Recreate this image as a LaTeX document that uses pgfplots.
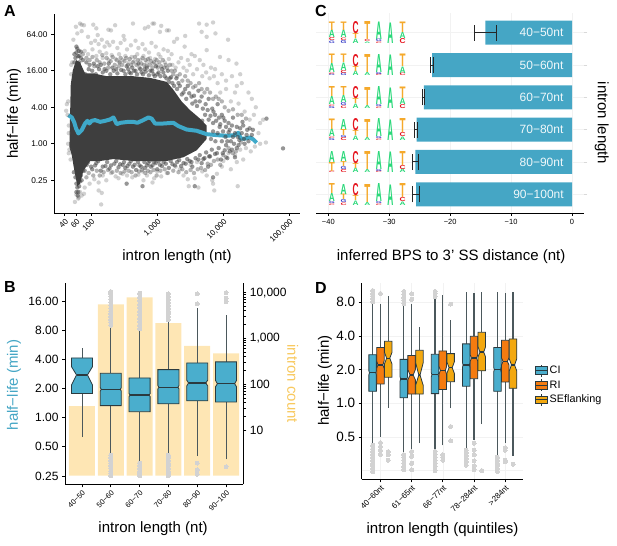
\documentclass[border=0pt]{standalone}
\usepackage{fontspec}
\setmainfont{Liberation Sans}
\usepackage{graphicx}
\usepackage{pgfplots}
\pgfplotsset{compat=1.18}

\definecolor{cbar}{HTML}{45A6C5}
\definecolor{cline}{HTML}{3FA9C9}
\definecolor{cyel}{HTML}{FEE6B4}
\definecolor{cyeltxt}{HTML}{F8C95F}
\definecolor{cCI}{HTML}{4AAECD}
\definecolor{cRI}{HTML}{F47B10}
\definecolor{cSE}{HTML}{F3A80F}
\definecolor{boxline}{HTML}{2B3A3F}
\definecolor{outl}{HTML}{D2D2D2}
\definecolor{cloud}{HTML}{3E3E3E}
\definecolor{logoA}{HTML}{2BD87A}
\definecolor{logoT}{HTML}{F5A92B}
\definecolor{logoC}{HTML}{E5141E}
\definecolor{logoG}{HTML}{3A3FC8}

\newcommand{\fs}[1]{\fontsize{#1}{#1}\selectfont}

\pgfplotsset{
  panel/.style={
    scale only axis,
    anchor=south west,
    tick align=outside,
    major tick length=3pt,
    minor tick num=0,
    axis line style={line width=0.9pt},
    tick style={line width=0.8pt,black},
    xlabel style={font=\fs{15},anchor=center},
    ylabel style={font=\fs{15},anchor=center},
  },
  softdot/.style={only marks,mark=*,mark size=2.2pt,
    mark options={line width=0pt,draw opacity=0,fill=#1}},
}

% notched box: x, half width, notch half width, q1, notch low, median, notch high, q3, colour
\newcommand{\nbox}[9]{%
  \pgfmathsetmacro{\xa}{#1-#2}\pgfmathsetmacro{\xb}{#1+#2}%
  \pgfmathsetmacro{\xc}{#1-#3}\pgfmathsetmacro{\xd}{#1+#3}%
  \edef\cmd{\noexpand\addplot[forget plot,fill=#9,draw=boxline,line width=0.8pt] coordinates
    {(\xa,#4)(\xb,#4)(\xb,#5)(\xd,#6)(\xb,#7)(\xb,#8)(\xa,#8)(\xa,#7)(\xc,#6)(\xa,#5)} -- cycle;
    \noexpand\addplot[forget plot,draw=boxline,line width=1.2pt] coordinates {(\xc,#6)(\xd,#6)};}%
  \cmd}
% whiskers: x, low, q1, q3, high
\def\whw{0.9pt}
\newcommand{\whisk}[5]{%
  \addplot[forget plot,draw=boxline!85,line width=\whw] coordinates {(#1,#2)(#1,#3)};
  \addplot[forget plot,draw=boxline!85,line width=\whw] coordinates {(#1,#4)(#1,#5)};}
% horizontal error bar: low, high, row
\newcommand{\ebar}[3]{%
  \pgfmathsetmacro{\ya}{#3-0.25}\pgfmathsetmacro{\yb}{#3+0.25}%
  \edef\cmd{\noexpand\addplot[black!85,line width=0.9pt] coordinates {(#1,#3)(#2,#3)};
    \noexpand\addplot[black!85,line width=0.9pt] coordinates {(#1,\ya)(#1,\yb)};
    \noexpand\addplot[black!85,line width=0.9pt] coordinates {(#2,\ya)(#2,\yb)};}%
  \cmd}

% sequence logo row: row position, list of columns x/{letter/height,...} from the bottom up
\newcommand{\logorow}[2]{%
  \def\rw{#1}%
  \foreach \cx/\st in {#2}{%
    \gdef\bb{0}%
    \foreach \L/\h in \st {%
      \pgfmathsetmacro{\ys}{\bb-10.8}%
      \node[anchor=south,inner sep=0pt,outer sep=0pt,text=logo\L,yshift=\ys pt] at (axis cs:\cx,\rw)
        {\resizebox{6pt}{\h pt}{\textbf{\L}}};
      \pgfmathsetmacro{\nb}{\bb+\h}\xdef\bb{\nb}%
    }%
  }%
  \draw[black,line width=0.9pt] (axis cs:-30.3,\rw) ++(0,-11.2pt) -- ++(7pt,0);
}

\begin{document}
\begin{tikzpicture}[x=1pt,y=1pt]
\path[use as bounding box] (0,0) rectangle (617,545);

\node[font=\fs{16}\bfseries] at (10,534) {A};
\node[font=\fs{16}\bfseries] at (10,258) {B};
\node[font=\fs{16}\bfseries] at (321,534) {C};
\node[font=\fs{16}\bfseries] at (321,257) {D};

%%% panel A
\begin{axis}[panel,
  at={(54pt,332pt)}, width=246pt, height=199pt,
  axis x line*=bottom, axis y line*=left,
  xmode=log, ymode=log,
  xmin=27.5, xmax=144500, ymin=0.0723, ymax=138,
  xtick={40,60,100,1000,10000,100000},
  xticklabels={40,60,100,{1,000},{10,000},{100,000}},
  ytick={0.25,1,4,16,64},
  yticklabels={0.25,1.00,4.00,16.00,64.00},
  x tick label style={font=\fs{8},rotate=45,anchor=north east,inner sep=1.5pt},
  y tick label style={font=\fs{8.3}},
  xlabel={intron length (nt)},
  ylabel={half−life (min)},
  xlabel style={at={(axis description cs:0.5,-0.221)}},
  ylabel style={at={(axis description cs:-0.163,0.5)}},
]
% light fringe of the cloud
\addplot[softdot={black!65,fill opacity=0.28}] coordinates {
(59,85)(68,96)(72,92)(78,90)(108,92)(62,66)(72,72)(54,52)(90,58)(120,80)(126,62)(183,76)(200,74)(231,90)(310,60)(430,96)(650,80)(850,96)(900,96)(735,85)(1100,70)(1150,88)(1400,74)(1500,74)(2000,54)(2650,60)(4300,96)(5600,92)(7000,100)(4700,70)(5600,58)(7600,66)(11800,52)(5600,35)(8900,27)(12000,24)(15800,21)(18000,14)
(100,46)(115,50)(130,44)(145,52)(160,40)(175,47)(190,42)(215,48)(250,38)(280,46)(320,52)(350,36)(400,42)(470,50)(520,38)(600,44)(660,36)(750,32)(820,46)(950,40)(1050,30)(1250,36)(1450,34)(1650,30)(1800,48)(2300,26)(2600,40)(2900,24)(3300,30)(3700,28)(4400,24)(5000,20)(6500,18)(7500,17)
(80,34)(90,30)(105,36)(120,28)(135,33)(150,26)(170,31)(185,24)(205,29)(235,25)(265,30)(300,24)(330,28)(370,22)(410,27)(450,23)(500,30)(560,24)(620,28)(700,22)(780,26)(860,21)(930,25)(1000,20)(1120,27)(1300,22)(1500,25)(1700,20)(1900,18)(2100,22)(2500,18)(2800,16)(3100,20)(3500,14)(4000,17)(4800,13)(5500,15)(6200,12)(7200,13)(8200,10)(9500,14)(11000,11)(13500,13)(16000,9)(19000,10)(24000,7)(27000,5.5)(31000,4)(15000,7)(11000,8)(9000,7)(13000,5)(17000,4.6)(21000,3.4)(25000,2.5)(29000,3)(36000,2.2)(40000,2.5)(34000,1.5)(44000,1.05)(36000,1.0)(30000,0.9)(26000,0.75)(22000,0.85)(18000,0.8)(15000,0.65)(20000,0.55)(16000,0.5)(12000,0.7)(10000,0.52)(13000,0.38)(9500,0.42)(16500,0.2)(8000,0.32)(7000,0.22)(7300,0.17)(5600,0.3)(6800,0.25)(4800,0.35)(3700,0.27)(2900,0.26)(2500,0.3)(3000,0.2)(4200,0.19)(4000,0.5)(3200,0.45)(2200,0.38)(1900,0.42)(1400,0.33)(1150,0.29)(1000,0.35)(900,0.27)(850,0.23)(700,0.3)(620,0.25)(600,0.35)(520,0.31)(420,0.28)(350,0.3)(300,0.32)(260,0.27)(235,0.29)(200,0.33)(170,0.25)(150,0.3)(130,0.23)(112,0.26)(95,0.22)(130,0.17)(145,0.155)(80,0.19)(78,0.15)(72,0.14)(65,0.13)(60,0.145)(57,0.11)(64,0.125)(142,0.10)(68,0.16)
(45,5)(43,4.5)(42,3.5)(44,3)(46,2)(46,1.5)(45,1)(47,0.8)(46,0.7)(49,0.55)(50,14)(50,20)(52,22)
};
% middle layer between the fringe and the core
\addplot[softdot={black!70,fill opacity=0.42}] coordinates {
(75,30)(85,26)(95,24)(105,27)(112,19)(122,24)(135,22)(148,29)(158,21)(172,26)(182,18)(198,23)(212,27)(228,20)(245,24)(262,19)(280,26)(295,20)(320,23)(340,26)(360,20)(385,25)(405,20)(430,22)(460,27)(485,20)(510,24)(540,18)(575,21)(600,26)(630,20)(665,24)(690,19)(730,25)(770,20)(810,23)(850,18)(900,22)(980,24)(1020,18)(1080,22)(1150,19)(1220,24)(1280,18)(1350,20)(1420,18)(1560,20)(1650,16)(1750,14)(1850,16)(2000,13)(2200,14)(2400,11)(2650,13)(2900,11)(3200,10)(3500,8.5)(3800,9)(4300,10)(4700,8)(5200,7)(5700,8)(6300,7)(7000,5.5)(7700,6)(8500,5.5)(9500,5)(10500,4)(12000,3.5)(14000,3.7)(16500,3)(19000,3)(22000,2.6)
(85,0.28)(92,0.33)(108,0.3)(122,0.36)(135,0.3)(155,0.34)(180,0.37)(210,0.34)(245,0.36)(280,0.33)(320,0.35)(370,0.36)(410,0.34)(470,0.3)(530,0.35)(590,0.37)(660,0.33)(720,0.36)(790,0.34)(880,0.37)(980,0.3)(1120,0.36)(1300,0.38)(1450,0.33)(1750,0.36)(2100,0.34)(2400,0.38)(2750,0.34)(3200,0.37)(3600,0.33)(4100,0.38)(4600,0.4)(5300,0.37)(5800,0.47)(6500,0.45)(7200,0.52)(8200,0.55)(9000,0.45)(10000,0.65)(11000,0.6)(12000,0.85)(14000,0.7)(15500,0.75)(18500,1.05)
};
% dense core
\addplot[fill=cloud,draw=none] coordinates {
(49.3,9.5)(52.8,16)(59.3,24)(68,22)(81,14.5)(108,14.5)(173,13)(274,13)(436,13)(780,12.2)(1390,10.5)(1754,7.8)(2340,5)(3130,3.6)(4440,2.6)(5600,2.0)
(5600,1.2)(3950,0.78)(2490,0.6)(1390,0.52)(780,0.52)(436,0.52)(218,0.56)(137,0.52)(96.6,0.52)(76.6,0.36)(68,0.22)(62,0.2)(55,0.4)(51,0.65)(47,0.89)
} -- cycle;
% darker points along the edge of the cloud
\addplot[softdot={black!75,fill opacity=0.55}] coordinates {
(62,37)(70,33)(66,28)(75,24)(85,22)(95,20)(110,21)(125,19)(140,20)(160,17)(185,21)(210,18)(240,17)(270,22)(310,16)(345,19)(380,15)(420,18)(470,16)(520,21)(580,15)(640,17)(700,18)(790,16)(880,14)(960,19)(1050,15)(1180,17)(1300,13)(1450,16)(1550,12)(1700,10)(1950,12)(2200,9)(2500,7)(2900,9)(3300,6)(3800,5)(4200,7.5)(4700,6)(5400,4.5)(6000,5.5)(6800,3.8)(7500,3)(8200,4.5)(9500,3)(10500,2.4)(12000,2.2)(14000,2.7)(16000,1.9)(19500,2.3)(23000,1.7)(27000,1.4)(45000,2.6)(80000,0.84)
(86,0.45)(100,0.42)(120,0.48)(140,0.36)(165,0.43)(190,0.39)(225,0.47)(260,0.41)(345,0.22)(300,0.45)(330,0.4)(380,0.47)(430,0.42)(480,0.37)(540,0.44)(600,0.2)(650,0.4)(730,0.48)(800,0.42)(900,0.5)(1000,0.38)(1100,0.45)(1250,0.5)(1500,0.4)(1700,0.46)(2000,0.5)(2300,0.43)(2700,0.47)(3100,0.52)(3400,0.42)(3700,0.2)(4200,0.55)(4700,0.48)(5200,0.58)(5900,0.42)(6300,0.62)(7000,0.28)(8000,0.7)(9200,0.55)(10500,0.78)(11500,0.58)(13500,0.8)(15000,0.6)(17000,0.95)(21000,1.0)
(82,14)(92,17)(104,16)(118,14)(132,17)(150,15)(170,16)(195,14)(220,16)(250,14.5)(285,16.5)(330,14)(365,17)(400,14.5)(445,16)(495,14)(555,17)(610,14)(670,15.5)(750,13.5)(840,16)(920,13)(1010,14)(1120,13)(1240,15)(1380,12)(1500,10.5)(1620,12.5)(1800,9)(2000,8)(2100,10)(2350,6.5)(2650,8)(2750,5.5)(3050,6.8)(3400,4.6)(3600,6.2)(4000,4.2)(4400,5)(4900,3.8)(5300,3)(5800,3.6)(6400,2.9)(7100,3.4)(7800,2.4)(8600,2.7)(9000,2.1)(10000,2.7)(11000,1.9)(12500,1.7)(13500,2)(15000,1.5)
(80,0.36)(90,0.5)(104,0.38)(115,0.44)(128,0.52)(150,0.42)(175,0.5)(200,0.44)(240,0.52)(275,0.46)(315,0.5)(355,0.43)(400,0.52)(455,0.45)(510,0.5)(570,0.42)(640,0.5)(700,0.44)(770,0.52)(850,0.44)(950,0.48)(1050,0.52)(1180,0.43)(1350,0.47)(1600,0.52)(1850,0.44)(2150,0.54)(2500,0.48)(2850,0.56)(3300,0.5)(3800,0.58)(4400,0.65)(5000,0.56)(5500,0.72)(6100,0.62)(6700,0.8)(7500,0.68)(8500,0.85)(9800,0.7)(11000,0.95)(12500,0.75)(14500,1.0)(16000,0.85)
(6500,1.2)(7000,1.6)(7600,1.1)(8200,1.5)(8800,1.9)(9500,1.1)(9900,1.6)(10800,1.3)(11500,1.1)(12000,1.55)(13000,1.1)(14000,1.3)(16500,1.3)(17500,1.15)(19000,1.5)(20500,1.2)(22500,1.4)(24000,1.1)(18000,1.8)(25000,1.8)(20000,2)(28000,1.7)(7000,2.2)(6000,2.5)(4800,2.4)
(56,22)(58,26)(60,32)(63,28)(65,34)(60,40)(56,30)(66,22)(70,26)(55,0.34)(58,0.28)(60,0.22)(62,0.19)(64,0.16)(66,0.2)(68,0.24)(70,0.3)(72,0.25)(75,0.36)(60,0.16)(63,0.14)
};
% running median
\addplot[cline,line width=4pt,line join=round] coordinates {
(45.4,2.97)(51,2.72)(55.3,2.30)(59.3,1.79)(64.4,1.48)(72.3,1.68)(81.1,2.16)(88,2.39)(94.4,2.16)(102,2.39)(115,2.46)(137,2.30)(163,2.39)(194,2.52)(218,2.72)(244,2.11)(281,2.22)(366,2.30)(436,2.30)(501,2.22)(618,2.46)(735,2.72)(826,2.60)(927,2.16)(1240,2.16)(1754,2.22)(2090,1.96)(2790,1.72)(3950,1.64)(5600,1.44)(7950,1.39)(11200,1.355)(15000,1.39)(16900,1.52)(18300,1.22)(21200,1.22)(25300,1.27)(28400,1.18)(31900,1.04)
};
\end{axis}

%%% panel C
\begin{axis}[panel,
  at={(316pt,332pt)}, width=268pt, height=200pt,
  axis x line*=bottom, axis y line*=right,
  y axis line style={draw=none},
  xmin=-42.02, xmax=1.97, ymin=0.42, ymax=6.61,
  xtick={-40,-30,-20,-10,0},
  xticklabels={−40,−30,−20,−10,0},
  ytick={1,2,3,4,5,6},
  yticklabels={},
  ytick style={draw=gray!30},
  xmajorgrids, ymajorgrids, grid style={black!5},
  x tick label style={font=\fs{7.5}},
  xlabel={inferred BPS to 3' SS distance (nt)},
  ylabel={intron length},
  xlabel style={at={(axis description cs:0.504,-0.22)}},
  ylabel style={at={(axis description cs:1.066,0.45)},rotate=180},
]
\addplot[xbar,bar width=24pt,bar shift=0pt,fill=cbar,draw=none] coordinates {
(-14.2,6)(-22.95,5)(-24.3,4)(-25.5,3)(-25.7,2)(-25.6,1)};
\ebar{-16}{-12.4}{6}
\ebar{-23.2}{-22.7}{5}
\ebar{-24.5}{-24.2}{4}
\ebar{-25.85}{-25.3}{3}
\ebar{-26.2}{-25.2}{2}
\ebar{-26.2}{-25.1}{1}
\node[text=white!92!cbar,font=\fs{12}] at (axis cs:-5,6) {40−50nt};
\node[text=white!92!cbar,font=\fs{12}] at (axis cs:-5,5) {50−60nt};
\node[text=white!92!cbar,font=\fs{12}] at (axis cs:-5,4) {60−70nt};
\node[text=white!92!cbar,font=\fs{12}] at (axis cs:-5,3) {70−80nt};
\node[text=white!92!cbar,font=\fs{12}] at (axis cs:-5,2) {80−90nt};
\node[text=white!92!cbar,font=\fs{12}] at (axis cs:-5.5,1) {90−100nt};
\pgfplotsextra{
\logorow{6}{-39.4/{G/2.5,C/3,A/7.5,T/8.5},-37.5/{G/3,C/2.5,A/7.5,T/8.5},-35.5/{A/4.5,T/5,C/12},-33.6/{A/1.5,C/2,T/18},-31.7/{C/1.5,G/2.5,A/17.5},-29.8/{A/20.5},-27.8/{C/5,A/6,T/10.5}}
\logorow{5}{-39.4/{G/1.5,C/1.5,A/9,T/9.5},-37.5/{G/2.5,C/3,A/7.5,T/8.5},-35.5/{A/4.5,T/5,C/12},-33.6/{A/3,T/18},-31.7/{C/1.5,G/2,A/18},-29.8/{A/20.5},-27.8/{C/2.5,A/6.5,T/12.5}}
\logorow{4}{-39.4/{G/2,C/1.5,A/8,T/10},-37.5/{C/2.5,G/3,A/7,T/9},-35.5/{A/4.5,T/5,C/12},-33.6/{A/3,T/18},-31.7/{C/1.5,G/2,A/18},-29.8/{A/20.5},-27.8/{C/4,A/6,T/11.5}}
\logorow{3}{-39.4/{G/2,C/1.5,A/7.5,T/10.5},-37.5/{C/3,G/2,T/6,A/10},-35.5/{A/4.5,T/5,C/12},-33.6/{A/3,T/18},-31.7/{C/1.5,G/2,A/18},-29.8/{A/20.5},-27.8/{A/3.5,C/4,T/14}}
\logorow{2}{-39.4/{C/1.5,T/9,A/11},-37.5/{C/3,G/3,T/5,A/10},-35.5/{A/4.5,T/5,C/12},-33.6/{A/3,T/18},-31.7/{C/1.5,G/2,A/18},-29.8/{A/20.5},-27.8/{A/3.5,C/4,T/14}}
\logorow{1}{-39.4/{C/1.5,G/2,A/8,T/10},-37.5/{C/2.5,G/3,T/5.5,A/10},-35.5/{A/4.5,T/5,C/12},-33.6/{A/3,T/18},-31.7/{C/1.5,G/2,A/18},-29.8/{A/20.5},-27.8/{A/3.5,C/4,T/14}}
}
\end{axis}

%%% panel B, count bars and right axis
\begin{axis}[panel,
  at={(65pt,60.7pt)}, width=178.3pt, height=201pt,
  axis x line*=bottom, axis y line*=right,
  ymode=log, log origin=0,
  xmin=0.41, xmax=6.6, ymin=0.65, ymax=16000,
  xtick=\empty,
  ytick={10,100,1000,10000},
  yticklabels={10,100,{1,000},{10,000}},
  y tick label style={font=\fs{12}},
  ylabel={intron count},
  ylabel style={at={(axis description cs:1.277,0.5)},rotate=180,text=cyeltxt},
]
\addplot[ybar,bar width=26pt,bar shift=0pt,fill=cyel,draw=none] coordinates {
(1,33)(2,5570)(3,7900)(4,2150)(5,685)(6,473)};
\end{axis}

%%% panel B, half-life boxes
\begin{axis}[panel,
  at={(65pt,60.7pt)}, width=178.3pt, height=201pt,
  axis x line*=bottom, axis y line*=left,
  ymode=log,
  xmin=0.41, xmax=6.6, ymin=0.205, ymax=24.35,
  xtick={1,2,3,4,5,6},
  xticklabels={40−50,50−60,60−70,70−80,80−90,90−100},
  ytick={0.25,0.5,1,2,4,8,16},
  yticklabels={0.25,0.50,1.00,2.00,4.00,8.00,16.00},
  x tick label style={font=\fs{7.5},rotate=45,anchor=north east,inner sep=1.5pt},
  y tick label style={font=\fs{12}},
  xlabel={intron length (nt)},
  ylabel={half−life (min)},
  xlabel style={at={(axis description cs:0.494,-0.222)}},
  ylabel style={at={(axis description cs:-0.286,0.494)},text=cbar},
]
\addplot[only marks,mark=*,mark size=2pt,mark options={draw=outl,fill=outl,line width=0pt}] coordinates {
(2,9)(2,9.6)(2,10.2)(2,11)(2,11.8)(2,12.6)(2,13.5)(2,14.5)(2,15.5)(2,16.6)(2,17.8)(2,19)(2,20)
(2,0.25)(2,0.265)(2,0.28)(2,0.3)(2,0.32)(2,0.34)(2,0.36)(2,0.385)(2,0.41)
(3,8.3)(3,9)(3,9.8)(3,10.6)(3,11.5)(3,12.5)(3,13.6)(3,14.8)(3,16)(3,17.5)(3,19.2)
(3,0.25)(3,0.265)(3,0.28)(3,0.3)(3,0.32)(3,0.34)
(4,10.2)(4,11)(4,11.8)(4,12.6)(4,13.5)(4,14.4)(4,15.4)(4,16.5)(4,17.7)(4,18.9)
(4,0.25)(4,0.265)(4,0.28)(4,0.3)(4,0.32)(4,0.34)(4,0.36)(4,0.385)(4,0.41)
(5,18.9)(5,14.9)(5,0.34)(5,0.29)(5,0.26)
(6,19.5)(6,17.1)(6,15.8)(6,0.31)
};
\whisk{1}{0.63}{1.77}{4.13}{5.2}
\whisk{2}{0.42}{1.33}{2.87}{9.04}
\whisk{3}{0.35}{1.15}{2.57}{8.3}
\whisk{4}{0.42}{1.39}{3.13}{10.2}
\whisk{5}{0.40}{1.49}{3.67}{13.5}
\whisk{6}{0.37}{1.45}{3.76}{11.5}
\nbox{1}{0.365}{0.19}{1.77}{2.17}{2.76}{3.36}{4.13}{cCI}
\nbox{2}{0.365}{0.33}{1.33}{1.88}{1.96}{2.04}{2.87}{cCI}
\nbox{3}{0.365}{0.33}{1.15}{1.65}{1.71}{1.77}{2.57}{cCI}
\nbox{4}{0.365}{0.33}{1.39}{1.98}{2.06}{2.14}{3.13}{cCI}
\nbox{5}{0.365}{0.30}{1.49}{2.12}{2.28}{2.44}{3.67}{cCI}
\nbox{6}{0.365}{0.30}{1.45}{2.08}{2.24}{2.42}{3.76}{cCI}
\end{axis}

%%% panel D
\def\whw{1.25pt}
\begin{axis}[panel,
  at={(361.7pt,65.7pt)}, width=161.6pt, height=196pt,
  axis x line*=bottom, axis y line*=left,
  ymode=log,
  xmin=0.40, xmax=5.58, ymin=0.209, ymax=11.83,
  xtick={1,2,3,4,5},
  xticklabels={40−60nt,61−65nt,66−77nt,78−284nt,>284nt},
  ytick={0.5,1,2,4,8},
  yticklabels={0.5,1.0,2.0,4.0,8.0},
  xmajorgrids, ymajorgrids, grid style={black!5},
  x tick label style={font=\fs{8},rotate=45,anchor=north east,inner sep=1.5pt},
  y tick label style={font=\fs{13.5}},
  xlabel={intron length (quintiles)},
  ylabel={half−life (min)},
  xlabel style={at={(axis description cs:0.5,-0.255)}},
  ylabel style={at={(axis description cs:-0.227,0.503)}},
  legend style={at={(axis description cs:1.07,0.48)},anchor=west,draw=none,fill=none,
    font=\fs{10.8},row sep=1.5pt,inner sep=0pt},
  legend cell align=left,
]
\addplot[forget plot,black!5,line width=0.4pt] coordinates {(0.40,0.25)(5.58,0.25)};
\addplot[forget plot,only marks,mark=*,mark size=2pt,mark options={draw=outl,fill=outl,line width=0pt}] coordinates {
(0.75,8.1)(0.75,8.6)(0.75,9.1)(0.75,9.6)(0.75,10.2)
(0.75,0.245)(0.75,0.26)(0.75,0.275)(0.75,0.29)(0.75,0.31)(0.75,0.33)(0.75,0.35)(0.75,0.37)(0.75,0.39)(0.75,0.42)
(1,9.6)(1,0.445)(1,0.41)(1,0.38)(1,0.35)
(1.25,0.37)(1.25,0.345)(1.25,0.31)
(1.75,7.8)(1.75,8.3)(1.75,8.8)(1.75,9.4)(1.75,10)
(1.75,0.255)(1.75,0.27)(1.75,0.29)(1.75,0.31)(1.75,0.33)(1.75,0.345)
(2,9.5)(2,8.5)(2,0.37)(2,0.335)(2,0.29)(2,0.255)
(2.75,9)(2.75,9.5)(2.75,10)
(2.75,0.25)(2.75,0.27)(2.75,0.29)(2.75,0.31)(2.75,0.33)(2.75,0.35)(2.75,0.37)
(3,0.345)(3,0.33)(3,0.31)
(3.25,7.7)(3.25,0.62)(3.25,0.46)
(3.75,0.28)(3.75,0.3)(3.75,0.32)(3.75,0.34)(3.75,0.36)(3.75,0.38)
(4,0.44)(4,0.38)(4,0.345)(4,0.305)(4,0.275)(4,0.255)
(4.25,0.25)
(4.75,0.245)(4.75,0.26)(4.75,0.275)(4.75,0.29)(4.75,0.31)(4.75,0.33)
(5,0.4)(5,0.38)(5,0.31)(5,0.3)
(5.25,0.285)
};
\whisk{0.75}{0.42}{1.28}{2.72}{8.1}
\whisk{1}{0.5}{1.49}{3.15}{7.8}
\whisk{1.25}{0.915}{1.71}{3.58}{9.1}
\whisk{1.75}{0.357}{1.12}{2.47}{7.8}
\whisk{2}{0.38}{1.21}{2.67}{7.8}
\whisk{2.25}{0.44}{1.21}{2.98}{4.85}
\whisk{2.75}{0.37}{1.22}{2.74}{9.0}
\whisk{3}{0.42}{1.33}{2.94}{9.3}
\whisk{3.25}{0.9}{1.56}{2.78}{5.6}
\whisk{3.75}{0.38}{1.42}{3.4}{9.9}
\whisk{4}{0.47}{1.66}{3.97}{9.6}
\whisk{4.25}{0.65}{1.95}{4.31}{9.8}
\whisk{4.75}{0.345}{1.28}{3.15}{9.9}
\whisk{5}{0.44}{1.55}{3.66}{9.6}
\whisk{5.25}{0.34}{1.36}{3.76}{9.8}
\nbox{0.75}{0.12}{0.10}{1.28}{1.8}{1.87}{1.95}{2.72}{cCI}
\nbox{1}{0.12}{0.08}{1.49}{2.05}{2.2}{2.4}{3.15}{cRI}
\nbox{1.25}{0.12}{0.05}{1.71}{2.25}{2.53}{2.85}{3.58}{cSE}
\nbox{1.75}{0.12}{0.10}{1.12}{1.58}{1.65}{1.72}{2.47}{cCI}
\nbox{2}{0.12}{0.05}{1.21}{1.62}{1.79}{2.0}{2.67}{cRI}
\nbox{2.25}{0.12}{0.02}{1.21}{1.45}{1.79}{2.3}{2.98}{cSE}
\nbox{2.75}{0.12}{0.10}{1.22}{1.72}{1.8}{1.88}{2.74}{cCI}
\nbox{3}{0.12}{0.08}{1.33}{1.82}{1.97}{2.13}{2.94}{cRI}
\nbox{3.25}{0.12}{0.05}{1.56}{1.85}{2.08}{2.35}{2.78}{cSE}
\nbox{3.75}{0.12}{0.10}{1.42}{2.1}{2.2}{2.3}{3.4}{cCI}
\nbox{4}{0.12}{0.08}{1.66}{2.38}{2.54}{2.7}{3.97}{cRI}
\nbox{4.25}{0.12}{0.06}{1.95}{2.6}{2.87}{3.2}{4.31}{cSE}
\nbox{4.75}{0.12}{0.10}{1.28}{1.9}{2.0}{2.1}{3.15}{cCI}
\nbox{5}{0.12}{0.07}{1.55}{2.2}{2.37}{2.55}{3.66}{cRI}
\nbox{5.25}{0.12}{0.05}{1.36}{1.95}{2.2}{2.5}{3.76}{cSE}
\addlegendimage{legend image code/.code={
  \draw[boxline,line width=0.7pt] (6pt,-6pt)--(6pt,6pt);
  \draw[boxline,line width=0.7pt,fill=cCI] (0pt,-3.8pt) rectangle (12pt,3.8pt);
  \draw[boxline,line width=0.9pt] (0pt,0pt)--(12pt,0pt);}}
\addlegendentry{CI}
\addlegendimage{legend image code/.code={
  \draw[boxline,line width=0.7pt] (6pt,-6pt)--(6pt,6pt);
  \draw[boxline,line width=0.7pt,fill=cRI] (0pt,-3.8pt) rectangle (12pt,3.8pt);
  \draw[boxline,line width=0.9pt] (0pt,0pt)--(12pt,0pt);}}
\addlegendentry{RI}
\addlegendimage{legend image code/.code={
  \draw[boxline,line width=0.7pt] (6pt,-6pt)--(6pt,6pt);
  \draw[boxline,line width=0.7pt,fill=cSE] (0pt,-3.8pt) rectangle (12pt,3.8pt);
  \draw[boxline,line width=0.9pt] (0pt,0pt)--(12pt,0pt);}}
\addlegendentry{SEflanking}
\end{axis}
\end{tikzpicture}
\end{document}
